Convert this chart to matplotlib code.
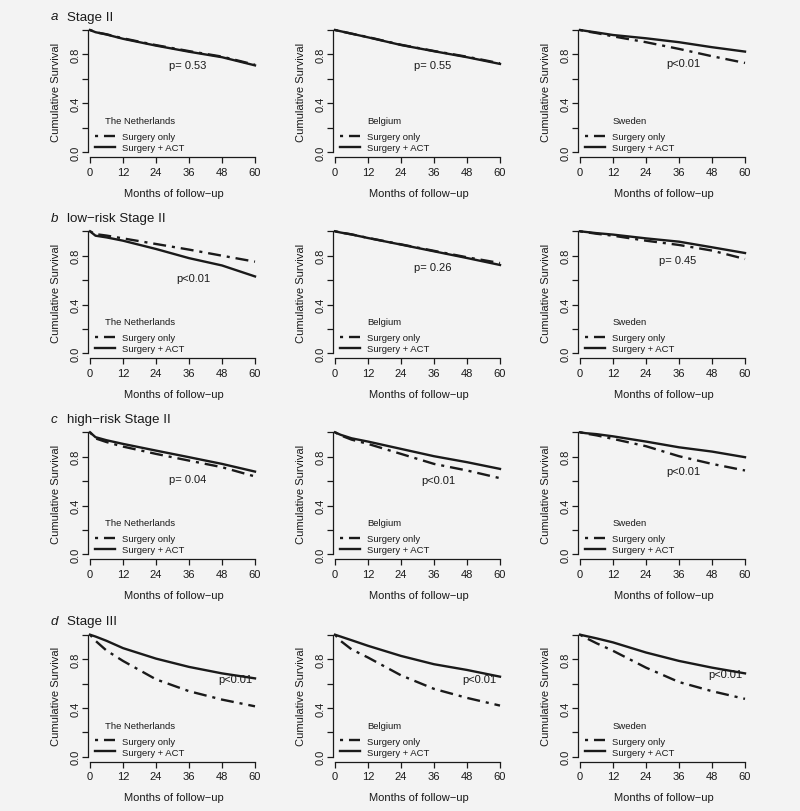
import numpy as np
import matplotlib
matplotlib.use('Agg')
import matplotlib.pyplot as plt

plt.rcParams['font.family'] = ['Liberation Sans', 'DejaVu Sans']

months = [0, 2, 6, 12, 24, 36, 48, 60]
countries = ['The Netherlands', 'Belgium', 'Sweden']
panel_letters = ['a', 'b', 'c', 'd']
panel_titles = ['Stage II', 'low\u2212risk Stage II', 'high\u2212risk Stage II', 'Stage III']
series_labels = ['Surgery only', 'Surgery + ACT']

# survival per row (stage) and column (country): (surgery only, surgery + ACT)
surv = {
    ('a', 0): ([1.0, 0.982, 0.965, 0.932, 0.876, 0.827, 0.782, 0.715],
               [1.0, 0.982, 0.963, 0.928, 0.872, 0.822, 0.777, 0.710]),
    ('a', 1): ([1.0, 0.990, 0.970, 0.942, 0.879, 0.828, 0.781, 0.727],
               [1.0, 0.990, 0.970, 0.940, 0.877, 0.826, 0.777, 0.722]),
    ('a', 2): ([1.0, 0.990, 0.975, 0.948, 0.900, 0.845, 0.785, 0.730],
               [1.0, 0.993, 0.980, 0.959, 0.932, 0.900, 0.859, 0.823]),
    ('b', 0): ([1.0, 0.977, 0.965, 0.942, 0.896, 0.850, 0.800, 0.751],
               [1.0, 0.964, 0.950, 0.923, 0.855, 0.780, 0.720, 0.630]),
    ('b', 1): ([1.0, 0.990, 0.975, 0.946, 0.893, 0.840, 0.787, 0.740],
               [1.0, 0.990, 0.974, 0.945, 0.891, 0.836, 0.781, 0.724]),
    ('b', 2): ([1.0, 0.993, 0.980, 0.964, 0.923, 0.888, 0.842, 0.773],
               [1.0, 0.995, 0.985, 0.973, 0.942, 0.915, 0.869, 0.822]),
    ('c', 0): ([1.0, 0.950, 0.920, 0.883, 0.823, 0.768, 0.714, 0.638],
               [1.0, 0.960, 0.935, 0.905, 0.850, 0.796, 0.741, 0.678]),
    ('c', 1): ([1.0, 0.975, 0.940, 0.905, 0.823, 0.741, 0.687, 0.624],
               [1.0, 0.980, 0.951, 0.924, 0.864, 0.804, 0.755, 0.700]),
    ('c', 2): ([1.0, 0.990, 0.975, 0.946, 0.886, 0.804, 0.741, 0.687],
               [1.0, 0.993, 0.985, 0.967, 0.924, 0.877, 0.842, 0.796]),
    ('d', 0): ([1.0, 0.950, 0.870, 0.785, 0.634, 0.537, 0.468, 0.413],
               [1.0, 0.985, 0.950, 0.890, 0.804, 0.736, 0.683, 0.642]),
    ('d', 1): ([1.0, 0.950, 0.880, 0.813, 0.667, 0.556, 0.482, 0.419],
               [1.0, 0.985, 0.955, 0.909, 0.826, 0.758, 0.711, 0.656]),
    ('d', 2): ([1.0, 0.975, 0.930, 0.868, 0.730, 0.612, 0.537, 0.474],
               [1.0, 0.990, 0.970, 0.937, 0.854, 0.785, 0.730, 0.683]),
}

p_text = {
    'a': ['p= 0.53', 'p= 0.55', 'p<0.01'],
    'b': ['p<0.01', 'p= 0.26', 'p= 0.45'],
    'c': ['p= 0.04', 'p<0.01', 'p<0.01'],
    'd': ['p<0.01', 'p<0.01', 'p<0.01'],
}
p_pos = {
    'a': [(35.5, 0.71), (35.6, 0.71), (37.6, 0.73)],
    'b': [(37.7, 0.615), (35.6, 0.71), (35.5, 0.767)],
    'c': [(35.5, 0.62), (37.7, 0.61), (37.6, 0.68)],
    'd': [(52.7, 0.634), (52.6, 0.64), (52.8, 0.675)],
}

bg = '#f3f3f3'
ink = '#1a1a1a'
W, H = 800, 812
fig = plt.figure(figsize=(W / 100, H / 100), dpi=100, facecolor=bg)

col_x0 = [90, 335, 580]          # pixel of month 0
row_y1 = [31, 232.3, 433.3, 635.7]  # pixel of survival 1.0
px_month = 2.75
px_unit = 122
xlim = (-0.75, 62)
ylim = (-0.04, 1.04)

for r, letter in enumerate(panel_letters):
    for c, country in enumerate(countries):
        left = col_x0[c] + xlim[0] * px_month
        top = row_y1[r] - (ylim[1] - 1) * px_unit
        w = (xlim[1] - xlim[0]) * px_month
        h = (ylim[1] - ylim[0]) * px_unit
        ax = fig.add_axes([left / W, 1 - (top + h) / H, w / W, h / H])
        ax.set_facecolor(bg)
        only, act = surv[(letter, c)]
        ax.plot(months, act, color=ink, lw=1.7, label=series_labels[1])
        ax.plot(months, only, color=ink, lw=1.7, dashes=(1.3, 2.5, 5.5, 2.5),
                label=series_labels[0])
        ax.set_xlim(*xlim)
        ax.set_ylim(*ylim)
        for s in ['top', 'right']:
            ax.spines[s].set_visible(False)
        ax.spines['left'].set_bounds(0, 1)
        ax.spines['bottom'].set_bounds(0, 60)
        for s in ['left', 'bottom']:
            ax.spines[s].set_color(ink)
            ax.spines[s].set_linewidth(0.9)
        ax.set_xticks(range(0, 61, 12))
        ax.set_yticks([0, 0.2, 0.4, 0.6, 0.8, 1.0])
        ax.set_yticklabels(['0.0', '', '0.4', '', '0.8', ''], rotation=90, va='center')
        ax.tick_params(colors=ink, labelsize=8, length=4, width=0.9)
        ax.tick_params(axis='x', pad=3)
        ax.tick_params(axis='y', pad=1.5)
        ax.set_xlabel('Months of follow\u2212up', fontsize=8, color=ink, labelpad=8)
        ax.set_ylabel('Cumulative Survival', fontsize=8, color=ink, labelpad=7)

        px, py = p_pos[letter][c]
        ax.text(px, py, p_text[letter][c], fontsize=8, color=ink, ha='center', va='center')

        handles, labels = ax.get_legend_handles_labels()
        leg = ax.legend(handles[::-1], labels[::-1], title=country, loc='lower left',
                        bbox_to_anchor=(1.8, 0.0), bbox_transform=ax.transData,
                        frameon=False, fontsize=6.8, title_fontsize=6.8,
                        handlelength=2.1, handletextpad=0.75, labelspacing=0.22,
                        borderpad=0, borderaxespad=0)
        leg._legend_box.sep = 5.0
        for t in leg.get_texts():
            t.set_color(ink)
        leg.get_title().set_color(ink)

        if c == 0:
            ty = 1 - (row_y1[r] - 10.5) / H
            fig.text(50.7 / W, ty, letter, fontsize=9.6, style='italic', color=ink, va='baseline')
            fig.text(66.7 / W, ty, panel_titles[r], fontsize=9.6, color=ink, va='baseline')

fig.savefig('out.png', dpi=100, facecolor=bg)
